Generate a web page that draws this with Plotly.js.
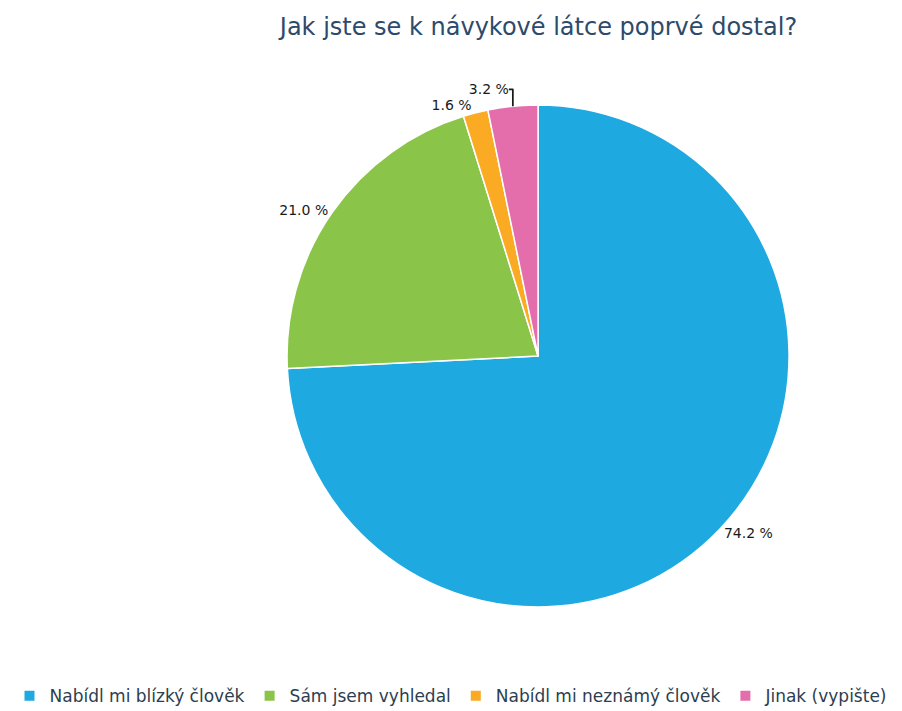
<!DOCTYPE html>
<html>
<head>
<meta charset="utf-8">
<script src="https://cdn.plot.ly/plotly-3.0.1.min.js"></script>
<style>html,body{margin:0;padding:0;background:#fff;}#chart{width:902px;height:711px;}</style>
</head>
<body>
<div id="chart"></div>
<script>
const categories = ["Nabídl mi blízký člověk", "Sám jsem vyhledal", "Nabídl mi neznámý člověk", "Jinak (vypište)"];
const percentValues = [74.2, 21.0, 1.6, 3.2];
const sliceColors = ["#1fa9e1", "#8ac449", "#fbaa23", "#e46dab"];

const pieTrace = {
  type: "pie",
  labels: categories,
  values: percentValues,
  sort: false,
  direction: "clockwise",
  rotation: 0,
  marker: { colors: sliceColors, line: { color: "#ffffff", width: 1.5 } },
  textposition: "outside",
  texttemplate: "%{value:.1f} %",
  textfont: { family: "DejaVu Sans", size: 14, color: "#1a1a1a" },
  hoverinfo: "label+value",
  domain: { x: [0.193, 1.0], y: [0, 1] }
};

const layout = {
  width: 902,
  height: 711,
  margin: { l: 0, r: 0, t: 105, b: 104, autoexpand: false },
  paper_bgcolor: "#ffffff",
  plot_bgcolor: "#ffffff",
  title: {
    text: "Jak jste se k návykové látce poprvé dostal?",
    font: { family: "DejaVu Sans", size: 24, color: "#2e4a6a" },
    x: 0.597, xanchor: "center", xref: "container",
    y: 0.962, yanchor: "middle", yref: "container"
  },
  showlegend: true,
  legend: {
    orientation: "h",
    x: 0.5, xanchor: "center", xref: "container",
    y: -0.142, yanchor: "top", yref: "paper",
    font: { family: "DejaVu Sans", size: 17, color: "#2c3e50" },
    traceorder: "normal",
    itemsizing: "constant"
  }
};

Plotly.newPlot("chart", [pieTrace], layout, { displayModeBar: false, staticPlot: true });
</script>
</body>
</html>
